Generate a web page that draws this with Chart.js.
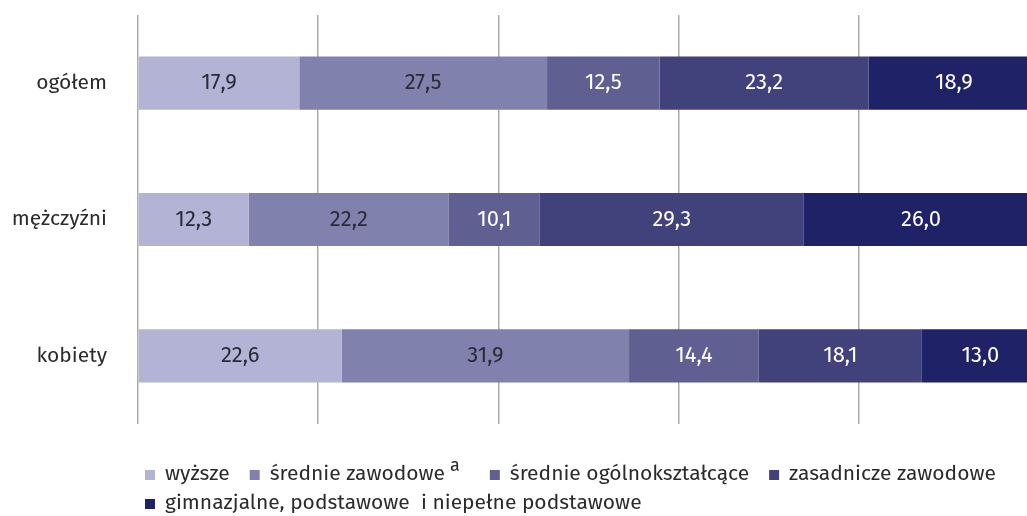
<!DOCTYPE html>
<html>
<head>
<meta charset="utf-8">
<script src="https://cdn.jsdelivr.net/npm/chart.js@4"></script>
<style>
  html, body { margin: 0; padding: 0; background: #fff; overflow: hidden; }
  #wrap { width: 1045px; height: 516px; position: relative; }
</style>
</head>
<body>
<div id="wrap"><canvas id="chart"></canvas></div>
<script>
const categories = ["ogółem", "mężczyźni", "kobiety"];
const seriesNames = ["wyższe", "średnie zawodowe", "średnie ogólnokształcące", "zasadnicze zawodowe", "gimnazjalne, podstawowe  i niepełne podstawowe"];
const seriesNotes = ["", "a", "", "", ""];
const wyzsze = [17.9, 12.3, 22.6];
const srednieZawodowe = [27.5, 22.2, 31.9];
const srednieOgolne = [12.5, 10.1, 14.4];
const zasadnicze = [23.2, 29.3, 18.1];
const gimnazjalne = [18.9, 26.0, 13.0];
const xTicks = [0, 20, 40, 60, 80, 100];

const colors = ["#b3b3d6", "#8181ad", "#5f5f92", "#41417b", "#1f2267"];
const labelColors = ["#2a2a38", "#2a2a38", "#ffffff", "#ffffff", "#ffffff"];
const font = "'Fira Sans', 'Noto Sans', sans-serif";

const seriesValues = [wyzsze, srednieZawodowe, srednieOgolne, zasadnicze, gimnazjalne];

const valueLabels = {
  id: "valueLabels",
  afterDatasetsDraw(chart) {
    const ctx = chart.ctx;
    ctx.save();
    ctx.font = "22px " + font;
    ctx.textAlign = "center";
    ctx.textBaseline = "middle";
    chart.data.datasets.forEach((ds, i) => {
      chart.getDatasetMeta(i).data.forEach((bar, j) => {
        const cx = (bar.x + bar.base) / 2;
        ctx.fillStyle = labelColors[i];
        ctx.fillText(ds.data[j].toFixed(1).replace(".", ","), cx, bar.y);
      });
    });
    ctx.restore();
  }
};

const bottomLegend = {
  id: "bottomLegend",
  afterDraw(chart) {
    const ctx = chart.ctx;
    ctx.save();
    ctx.textBaseline = "middle";
    ctx.textAlign = "left";
    let x = 145;
    let y = 474;
    const rowH = 29;
    const right = 1020;
    chart.data.datasets.forEach((ds, i) => {
      ctx.font = "21px " + font;
      let w = 10 + 10 + ctx.measureText(ds.label).width;
      ctx.font = "18px " + font;
      if (seriesNotes[i]) w += 5 + ctx.measureText(seriesNotes[i]).width + 10;
      if (x + w > right) { x = 145; y += rowH; }
      ctx.fillStyle = colors[i];
      ctx.fillRect(x, y - 4, 10, 10);
      ctx.fillStyle = "#2b2b2b";
      ctx.font = "21px " + font;
      ctx.fillText(ds.label, x + 20, y);
      const tx = x + 20 + ctx.measureText(ds.label).width;
      if (seriesNotes[i]) {
        ctx.font = "18px " + font;
        ctx.fillText(seriesNotes[i], tx + 5, y - 8);
      }
      x += w + 20;
    });
    ctx.restore();
  }
};

new Chart(document.getElementById("chart"), {
  type: "bar",
  data: {
    labels: categories,
    datasets: seriesNames.map((name, i) => ({
      label: name,
      data: seriesValues[i],
      backgroundColor: colors[i],
      borderWidth: 0,
      categoryPercentage: 1,
      barPercentage: 0.39
    }))
  },
  options: {
    indexAxis: "y",
    responsive: true,
    maintainAspectRatio: false,
    animation: false,
    layout: { padding: { top: 15, bottom: 92, right: 6, left: 0 } },
    plugins: { legend: { display: false }, tooltip: { enabled: false } },
    scales: {
      x: {
        stacked: true,
        min: 0,
        max: 100,
        afterBuildTicks: (s) => { s.ticks = xTicks.map((v) => ({ value: v })); },
        afterFit: (s) => { s.height = 0; s.paddingLeft = 0; s.paddingRight = 0; },
        ticks: { display: false },
        border: { display: false },
        grid: { color: "#ababab", lineWidth: 1.5, drawTicks: false }
      },
      y: {
        stacked: true,
        afterFit: (s) => { s.width = 138; s.paddingTop = 0; s.paddingBottom = 0; },
        border: { display: false },
        grid: { display: false, drawTicks: false },
        ticks: { padding: 31, color: "#2b2b2b", font: { family: font, size: 21 } }
      }
    }
  },
  plugins: [valueLabels, bottomLegend]
});
</script>
</body>
</html>
